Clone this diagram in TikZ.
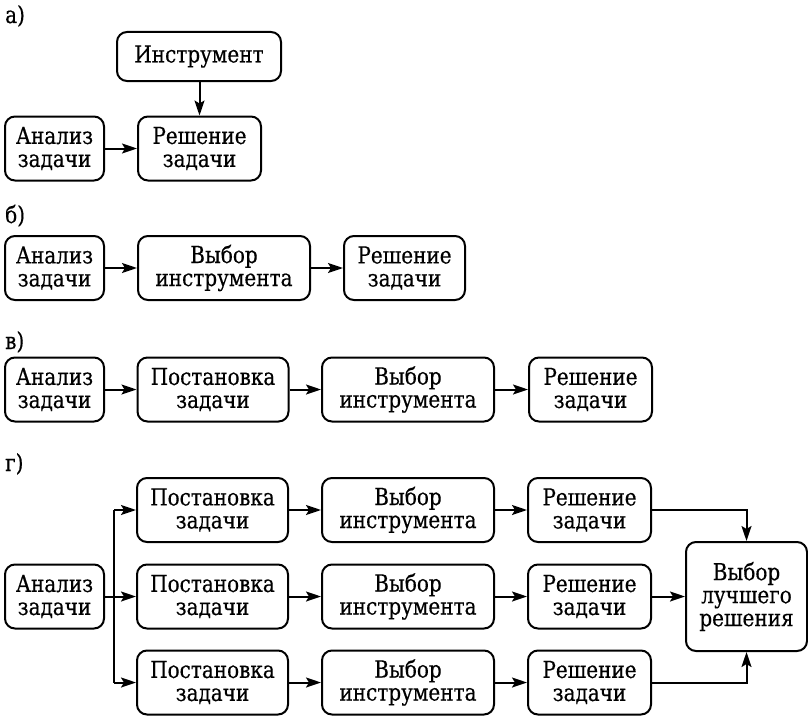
\documentclass[tikz,border=0pt]{standalone}
\usepackage{fontspec}
\setmainfont{Liberation Serif}
\newfontfamily\boxfont[FakeStretch=0.85,FakeBold=0.4]{DejaVu Serif}
\usetikzlibrary{arrows.meta}
\begin{document}
\begin{tikzpicture}[x=1pt,y=-1pt,
 box/.style={draw,line width=2pt,rounded corners=10pt,align=center,inner sep=0pt,minimum height=64pt,font=\boxfont\fontsize{23.5}{23}\selectfont},
 lab/.style={anchor=base west,inner sep=0pt,font=\boxfont\fontsize{23.5}{23}\selectfont},
 arr/.style={line width=2pt,-{Stealth[length=15pt,width=10pt,inset=3pt]}},
 wA/.style={minimum width=99pt},
 wP/.style={minimum width=151pt},
 wV/.style={minimum width=172pt},
 wR/.style={minimum width=123pt}]
\useasboundingbox (0,0) rectangle (808,717);
% a)
\node[lab] (la) at (5,23) {а)};
\node[box,minimum width=164pt,minimum height=49pt] (atool) at (199,56.5) {Инструмент};
\node[box,wA] (aan) at (54.5,148.5) {Анализ\\задачи};
\node[box,wR] (asol) at (199.5,148.5) {Решение\\задачи};
\draw[arr] (atool.south -| asol.north) -- (asol.north);
\draw[arr] (aan) -- (asol);
% b)
\node[lab] (lb) at (5,223) {б)};
\node[box,wA] (ban) at (54.5,268) {Анализ\\задачи};
\node[box,wV] (bvy) at (224,268) {Выбор\\инструмента};
\node[box,minimum width=121pt] (bsol) at (404.5,268) {Решение\\задачи};
\draw[arr] (ban) -- (bvy);
\draw[arr] (bvy) -- (bsol);
% c)
\node[lab] (lc) at (5,349) {в)};
\node[box,wA] (can) at (54.5,389.5) {Анализ\\задачи};
\node[box,wP] (cpo) at (213,389.5) {Постановка\\задачи};
\node[box,wV] (cvy) at (408,389.5) {Выбор\\инструмента};
\node[box,wR] (csol) at (590.5,389.5) {Решение\\задачи};
\draw[arr] (can) -- (cpo);
\draw[arr] (cpo) -- (cvy);
\draw[arr] (cvy) -- (csol);
% d)
\node[lab] (ld) at (5,471) {г)};
\node[box,wA] (dan) at (54.5,596.5) {Анализ\\задачи};
\foreach \r/\y in {1/510,2/596.5,3/682.5}{
  \node[box,wP] (dpo\r) at (212.5,\y) {Постановка\\задачи};
  \node[box,wV] (dvy\r) at (408,\y) {Выбор\\инструмента};
  \node[box,wR] (dsol\r) at (589.5,\y) {Решение\\задачи};
  \draw[arr] (dpo\r) -- (dvy\r);
  \draw[arr] (dvy\r) -- (dsol\r);
}
\node[box,minimum width=121pt,minimum height=109pt] (dbest) at (746.5,596.5) {Выбор\\лучшего\\решения};
\coordinate (br) at (114,596.5);
\draw[line width=2pt] (dan.east) -- (br);
\draw[arr] (br |- dpo1.west) -- (dpo1.west);
\draw[arr] (br) -- (dpo2.west);
\draw[arr] (br |- dpo3.west) -- (dpo3.west);
\draw[line width=2pt] (br |- dpo1.west) -- (br |- dpo3.west);
\draw[arr] (dsol1.east) -| (dbest.north);
\draw[arr] (dsol2.east) -- (dbest.west);
\draw[arr] (dsol3.east) -| (dbest.south);
\end{tikzpicture}
\end{document}
